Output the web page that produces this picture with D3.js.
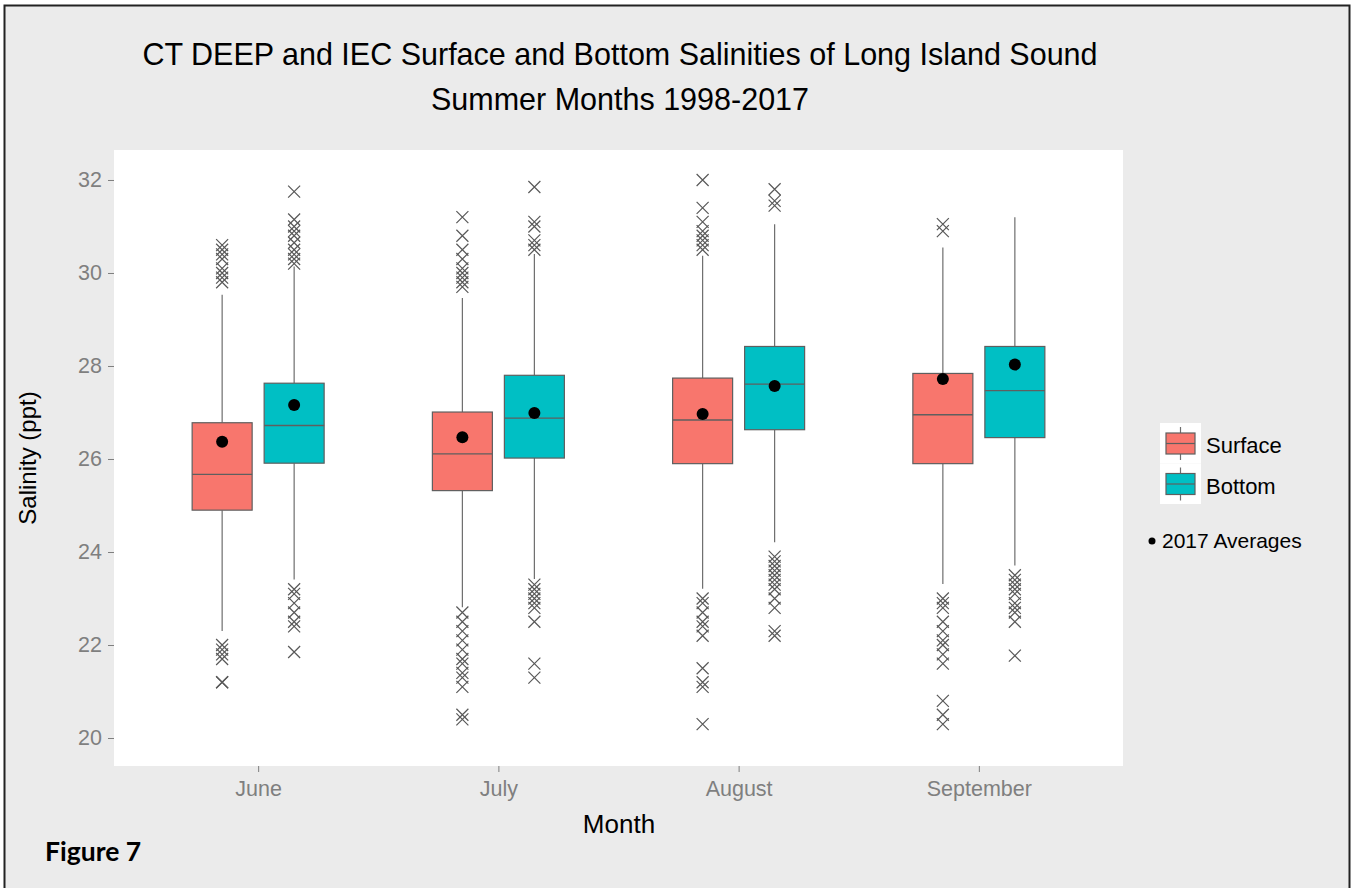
<!DOCTYPE html>
<html>
<head>
<meta charset="utf-8">
<script src="https://cdn.jsdelivr.net/npm/d3@7"></script>
<style>
  body { margin: 0; background: #fff; }
  text { font-family: "Liberation Sans", Arial, sans-serif; }
</style>
</head>
<body>
<div id="chart"></div>
<script>
// datos
const months = ["June", "July", "August", "September"]
const seriesNames = ["Surface", "Bottom"]
const yTicks = [20, 22, 24, 26, 28, 30, 32]

const surfaceLow    = [22.30, 22.81, 23.21, 23.31]
const surfaceQ1     = [24.90, 25.32, 25.90, 25.90]
const surfaceMedian = [25.67, 26.11, 26.84, 26.95]
const surfaceQ3     = [26.78, 27.01, 27.74, 27.84]
const surfaceHigh   = [29.53, 29.46, 30.37, 30.55]
const surfaceMean   = [26.37, 26.47, 26.97, 27.72]
const surfaceOutliers = [
  [30.6, 30.5, 30.4, 30.3, 30.1, 30.0, 29.9, 29.8, 22.0, 21.9, 21.8, 21.7, 21.2, 21.2],
  [31.2, 30.8, 30.5, 30.3, 30.1, 30.0, 29.9, 29.8, 29.7, 22.7, 22.5, 22.3, 22.1, 21.9, 21.7, 21.6, 21.4, 21.3, 21.1, 20.5, 20.4],
  [32.0, 31.4, 31.1, 30.9, 30.8, 30.7, 30.6, 30.5, 23.0, 22.9, 22.7, 22.5, 22.4, 22.2, 21.5, 21.2, 21.1, 20.3],
  [31.05, 30.9, 23.0, 22.9, 22.8, 22.5, 22.3, 22.1, 22.0, 21.8, 21.6, 20.8, 20.5, 20.3]
]

const bottomLow    = [23.41, 23.42, 24.21, 23.71]
const bottomQ1     = [25.91, 26.02, 26.63, 26.46]
const bottomMedian = [26.72, 26.88, 27.61, 27.47]
const bottomQ3     = [27.63, 27.80, 28.42, 28.42]
const bottomHigh   = [30.14, 30.41, 31.05, 31.20]
const bottomMean   = [27.16, 26.99, 27.57, 28.03]
const bottomOutliers = [
  [31.75, 31.15, 31.0, 30.9, 30.8, 30.65, 30.5, 30.4, 30.3, 30.2, 23.2, 23.1, 22.9, 22.7, 22.5, 22.4, 21.85],
  [31.85, 31.1, 31.0, 30.7, 30.6, 30.5, 23.3, 23.2, 23.1, 23.0, 22.9, 22.8, 22.5, 21.6, 21.3],
  [31.8, 31.55, 31.45, 23.9, 23.8, 23.7, 23.6, 23.5, 23.4, 23.3, 23.2, 23.0, 22.8, 22.3, 22.2],
  [23.5, 23.4, 23.3, 23.2, 23.1, 22.9, 22.8, 22.7, 22.5, 21.77]
]

const colores = { Surface: "#F8766D", Bottom: "#00BFC4" }

// construimos la tabla de cajas
const cajas = []
months.forEach((m, i) => {
  cajas.push({ month: m, serie: "Surface", low: surfaceLow[i], q1: surfaceQ1[i], med: surfaceMedian[i],
    q3: surfaceQ3[i], high: surfaceHigh[i], mean: surfaceMean[i], out: surfaceOutliers[i] })
  cajas.push({ month: m, serie: "Bottom", low: bottomLow[i], q1: bottomQ1[i], med: bottomMedian[i],
    q3: bottomQ3[i], high: bottomHigh[i], mean: bottomMean[i], out: bottomOutliers[i] })
})

// constantes
const ancho = 1353
const alto = 888
const panel = { izq: 114, der: 1123, sup: 150, inf: 766 }

const svg = d3.select("#chart").append("svg").attr("width", ancho).attr("height", alto)

svg.append("rect").attr("x", 4.5).attr("y", 5.5).attr("width", 1345).attr("height", 890)
  .attr("fill", "#EBEBEB").attr("stroke", "#222").attr("stroke-width", 2)

svg.append("rect").attr("x", panel.izq).attr("y", panel.sup)
  .attr("width", panel.der - panel.izq).attr("height", panel.inf - panel.sup).attr("fill", "#fff")

// escalas
const x = d3.scalePoint().domain(months).range([panel.izq, panel.der]).padding(0.6)
const xSerie = d3.scalePoint().domain(seriesNames).range([-36, 36])
const y = d3.scaleLinear().domain([19.398, 32.645]).range([panel.inf, panel.sup])
const anchoCaja = 60

// ejes
const ejeX = svg.append("g").attr("transform", `translate(0, ${panel.inf})`)
  .call(d3.axisBottom(x).tickSize(6).tickPadding(9))
const ejeY = svg.append("g").attr("transform", `translate(${panel.izq}, 0)`)
  .call(d3.axisLeft(y).tickValues(yTicks).tickSize(6).tickPadding(6))
;[ejeX, ejeY].forEach(g => {
  g.select(".domain").remove()
  g.selectAll(".tick line").attr("stroke", "#7f7f7f")
  g.selectAll(".tick text").attr("fill", "#7f7f7f").style("font-size", "21.5px")
})

// cajas
const grupo = svg.append("g")
const g = grupo.selectAll("g.caja").data(cajas).enter().append("g").attr("class", "caja")
  .attr("transform", d => `translate(${x(d.month) + xSerie(d.serie)}, 0)`)

g.append("line").attr("y1", d => y(d.high)).attr("y2", d => y(d.q3))
  .attr("stroke", "#6e6e6e").attr("stroke-width", 1.2)
g.append("line").attr("y1", d => y(d.q1)).attr("y2", d => y(d.low))
  .attr("stroke", "#6e6e6e").attr("stroke-width", 1.2)
g.append("rect").attr("x", -anchoCaja / 2).attr("width", anchoCaja)
  .attr("y", d => y(d.q3)).attr("height", d => y(d.q1) - y(d.q3))
  .attr("fill", d => colores[d.serie]).attr("stroke", "#5f5f5f").attr("stroke-width", 1.2)
g.append("line").attr("x1", -anchoCaja / 2).attr("x2", anchoCaja / 2)
  .attr("y1", d => y(d.med)).attr("y2", d => y(d.med))
  .attr("stroke", "#5f5f5f").attr("stroke-width", 1.4)

// outliers como cruces
const s = 6
g.selectAll("path.out").data(d => d.out).enter().append("path").attr("class", "out")
  .attr("d", v => `M${-s},${y(v) - s}L${s},${y(v) + s}M${-s},${y(v) + s}L${s},${y(v) - s}`)
  .attr("stroke", "#595959").attr("stroke-width", 1.2).attr("fill", "none")

// promedios 2017
g.append("circle").attr("cy", d => y(d.mean)).attr("r", 6).attr("fill", "#000")

// titulos
svg.append("text").attr("x", 620).attr("y", 65).attr("text-anchor", "middle")
  .style("font-size", "30.5px").text("CT DEEP and IEC Surface and Bottom Salinities of Long Island Sound")
svg.append("text").attr("x", 620).attr("y", 110).attr("text-anchor", "middle")
  .style("font-size", "30.5px").text("Summer Months 1998-2017")
svg.append("text").attr("x", 619).attr("y", 833).attr("text-anchor", "middle")
  .style("font-size", "26px").text("Month")
svg.append("text").attr("transform", "translate(36, 458) rotate(-90)").attr("text-anchor", "middle")
  .style("font-size", "24px").text("Salinity (ppt)")
svg.append("text").attr("x", 45).attr("y", 861)
  .style("font-size", "26.5px").style("font-weight", "bold").style("font-family", "Lato, 'Open Sans', sans-serif")
  .text("Figure 7")

// leyenda
const leyenda = svg.append("g").attr("transform", "translate(1160, 423)")
seriesNames.forEach((n, i) => {
  const k = leyenda.append("g").attr("transform", `translate(0, ${i * 40.5})`)
  k.append("rect").attr("width", 41).attr("height", 40.5).attr("fill", "#fff")
  k.append("line").attr("x1", 20.5).attr("x2", 20.5).attr("y1", 4).attr("y2", 37)
    .attr("stroke", "#6e6e6e").attr("stroke-width", 1.2)
  k.append("rect").attr("x", 6).attr("y", 10).attr("width", 29).attr("height", 21)
    .attr("fill", colores[n]).attr("stroke", "#5f5f5f").attr("stroke-width", 1.2)
  k.append("line").attr("x1", 6).attr("x2", 35).attr("y1", 20.5).attr("y2", 20.5)
    .attr("stroke", "#5f5f5f").attr("stroke-width", 1.2)
  k.append("text").attr("x", 46).attr("y", 30).style("font-size", "22px").text(n)
})
svg.append("circle").attr("cx", 1152).attr("cy", 541).attr("r", 3.5).attr("fill", "#000")
svg.append("text").attr("x", 1162).attr("y", 548).style("font-size", "21px").text("2017 Averages")
</script>
</body>
</html>
